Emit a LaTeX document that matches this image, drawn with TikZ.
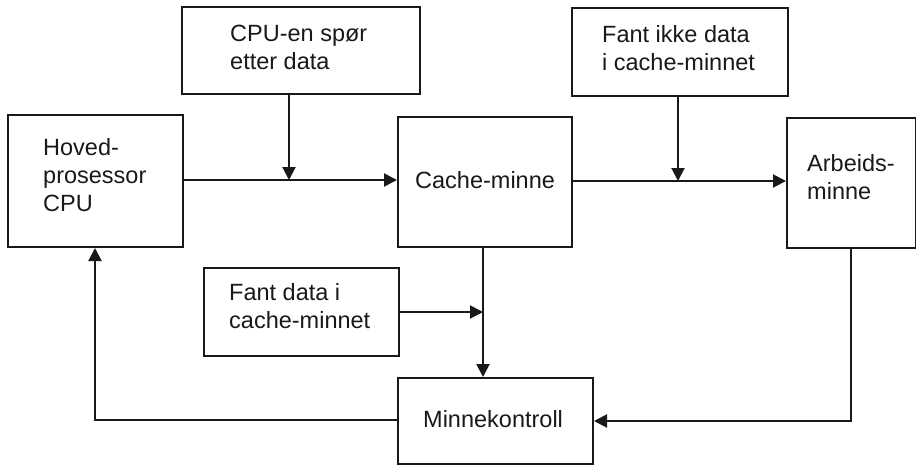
\documentclass[tikz,border=0pt]{standalone}
\usepackage{fontspec}
\setmainfont{Liberation Sans}
\usetikzlibrary{arrows.meta}
\begin{document}
\begin{tikzpicture}[x=1pt,y=-1pt,
  box/.style={draw=black!90, line width=2pt, inner sep=0pt, anchor=north west, fill=white},
  txt/.style={anchor=base west, inner sep=0pt, font=\fontsize{23.5}{28}\selectfont, text=black!90},
  conn/.style={draw=black!90, line width=2pt},
  arr/.style={conn, -{Triangle[length=13pt,width=13pt]}}]
\useasboundingbox (0,0) rectangle (916,464);
% boxes
\node[box, minimum width=175pt, minimum height=132pt] (cpu) at (7,114) {};
\node[box, minimum width=238pt, minimum height=87pt] (req) at (181,6) {};
\node[box, minimum width=174pt, minimum height=130pt] (cache) at (397,116) {};
\node[box, minimum width=216pt, minimum height=88pt] (miss) at (571,7) {};
\node[box, minimum width=129pt, minimum height=130pt] (ram) at (786,117) {};
\node[box, minimum width=195pt, minimum height=88pt] (hit) at (203,267) {};
\node[box, minimum width=195pt, minimum height=86pt] (ctrl) at (397,377) {};
% texts
\node[txt] (t1a) at (43,155) {Hoved-};
\node[txt] (t1b) at (43,183) {prosessor};
\node[txt] (t1c) at (43,211) {CPU};
\node[txt] (t2a) at (230,41) {CPU-en spør};
\node[txt] (t2b) at (230,69) {etter data};
\node[txt] (t3) at (415,188) {Cache-minne};
\node[txt] (t4a) at (602,42) {Fant ikke data};
\node[txt] (t4b) at (602,70) {i cache-minnet};
\node[txt] (t5a) at (807,171) {Arbeids-};
\node[txt] (t5b) at (807,199) {minne};
\node[txt] (t6a) at (229,300) {Fant data i};
\node[txt] (t6b) at (229,328) {cache-minnet};
\node[txt] (t7) at (423,427) {Minnekontroll};
% junction points
\coordinate (j1) at (289,180);
\coordinate (j2) at (678,181);
\coordinate (j3) at (483,312);
\coordinate (j4) at (851,421);
\coordinate (j5) at (95,420);
% connectors
\draw[arr] (cpu.east |- j1) -- (cache.west |- j1);
\draw[arr] (j1 |- req.south) -- (j1);
\draw[arr] (cache.east |- j2) -- (ram.west |- j2);
\draw[arr] (j2 |- miss.south) -- (j2);
\draw[arr] (j3 |- cache.south) -- (j3 |- ctrl.north);
\draw[arr] (hit.east |- j3) -- (j3);
\draw[arr] (j4 |- ram.south) -- (j4) -- (ctrl.east |- j4);
\draw[arr] (ctrl.west |- j5) -- (j5) -- (j5 |- cpu.south);
\end{tikzpicture}
\end{document}
